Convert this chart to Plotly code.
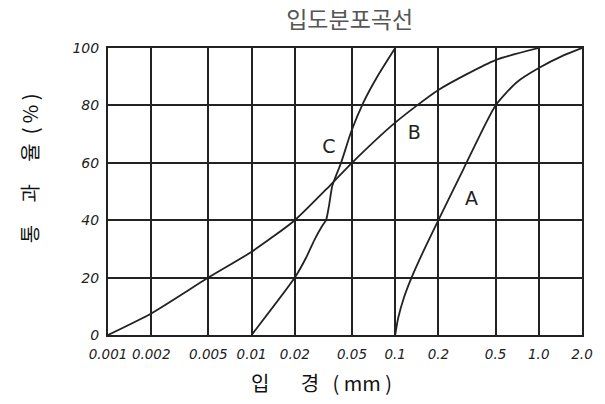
import numpy as np
import plotly.graph_objects as go

# Particle-size distribution (passing percent vs. grain diameter, mm)
size_a = [0.1, 0.105, 0.115, 0.13, 0.16, 0.2, 0.3, 0.5, 0.7, 1.0, 1.5, 2.0]
pass_a = [0, 6, 13, 20, 30, 40, 58, 80, 88, 93, 97.5, 100]

size_b = [0.001, 0.002, 0.005, 0.01, 0.02, 0.035, 0.05, 0.1, 0.2, 0.5, 1.0]
pass_b = [0, 7.5, 20, 29, 40, 52, 60, 74, 85.4, 95.8, 100]

size_c = [0.01, 0.02, 0.024, 0.0273, 0.0313, 0.033, 0.0346, 0.0365, 0.042, 0.0495, 0.06, 0.075, 0.1]
pass_c = [0, 20, 27, 33, 38.3, 40, 45, 52, 60, 71, 81, 90, 100]

x_ticks = [0.001, 0.002, 0.005, 0.01, 0.02, 0.05, 0.1, 0.2, 0.5, 1.0, 2.0]
x_tick_text = ["0.001", "0.002", "0.005", "0.01", "0.02", "0.05", "0.1", "0.2", "0.5", "1.0", "2.0"]
y_ticks = [0, 20, 40, 60, 80, 100]

curve_names = ["A", "B", "C"]
label_x = [0.34, 0.136, 0.0345]
label_y = [47, 70, 65]

fig = go.Figure()
for xs, ys, name in [(size_a, pass_a, "A"), (size_b, pass_b, "B"), (size_c, pass_c, "C")]:
    fig.add_trace(go.Scatter(x=xs, y=ys, mode="lines", name=name,
                             line=dict(color="#222", width=1.8, shape="spline", smoothing=0.6),
                             showlegend=False, hoverinfo="skip"))

fig.add_trace(go.Scatter(x=label_x, y=label_y, mode="text", text=curve_names,
                         textfont=dict(size=19, color="#222", family="DejaVu Sans"),
                         showlegend=False, hoverinfo="skip"))

fig.update_layout(
    width=605, height=404,
    margin=dict(l=108, r=23, t=48, b=69),
    paper_bgcolor="white", plot_bgcolor="white",
    title=dict(text="입도분포곡선", x=0.578, xanchor="center", y=0.95, yanchor="middle",
               font=dict(family="Noto Sans CJK KR", size=23, color="#555")),
    font=dict(family="DejaVu Sans", color="#222"),
    annotations=[
        dict(text="입       경   ( mm )", xref="paper", yref="paper",
             x=0.45, y=-0.165, xanchor="center", yanchor="middle", showarrow=False,
             font=dict(family="Noto Sans CJK KR", size=20, color="#111")),
        dict(text="통     과     율  ( % )", xref="paper", yref="paper",
             x=-0.165, y=0.58, xanchor="center", yanchor="middle", showarrow=False,
             textangle=-90,
             font=dict(family="Noto Sans CJK KR", size=20, color="#111")),
    ],
)

fig.update_xaxes(
    type="log", range=[np.log10(0.001), np.log10(2.0)],
    tickvals=x_ticks, ticktext=x_tick_text,
    tickfont=dict(size=13.5, family="DejaVu Sans", color="#222", style="italic"),
    ticklabelstandoff=6,
    showgrid=True, gridcolor="#222", gridwidth=1.8,
    showline=True, linecolor="#222", linewidth=2, mirror=True,
    ticks="", zeroline=False,
)
fig.update_yaxes(
    range=[0, 100], tickvals=y_ticks,
    tickfont=dict(size=14, family="DejaVu Sans", color="#222", style="italic"),
    ticklabelstandoff=4,
    showgrid=True, gridcolor="#222", gridwidth=1.8,
    showline=True, linecolor="#222", linewidth=2, mirror=True,
    ticks="", zeroline=False,
)

fig.write_html("out.html")
